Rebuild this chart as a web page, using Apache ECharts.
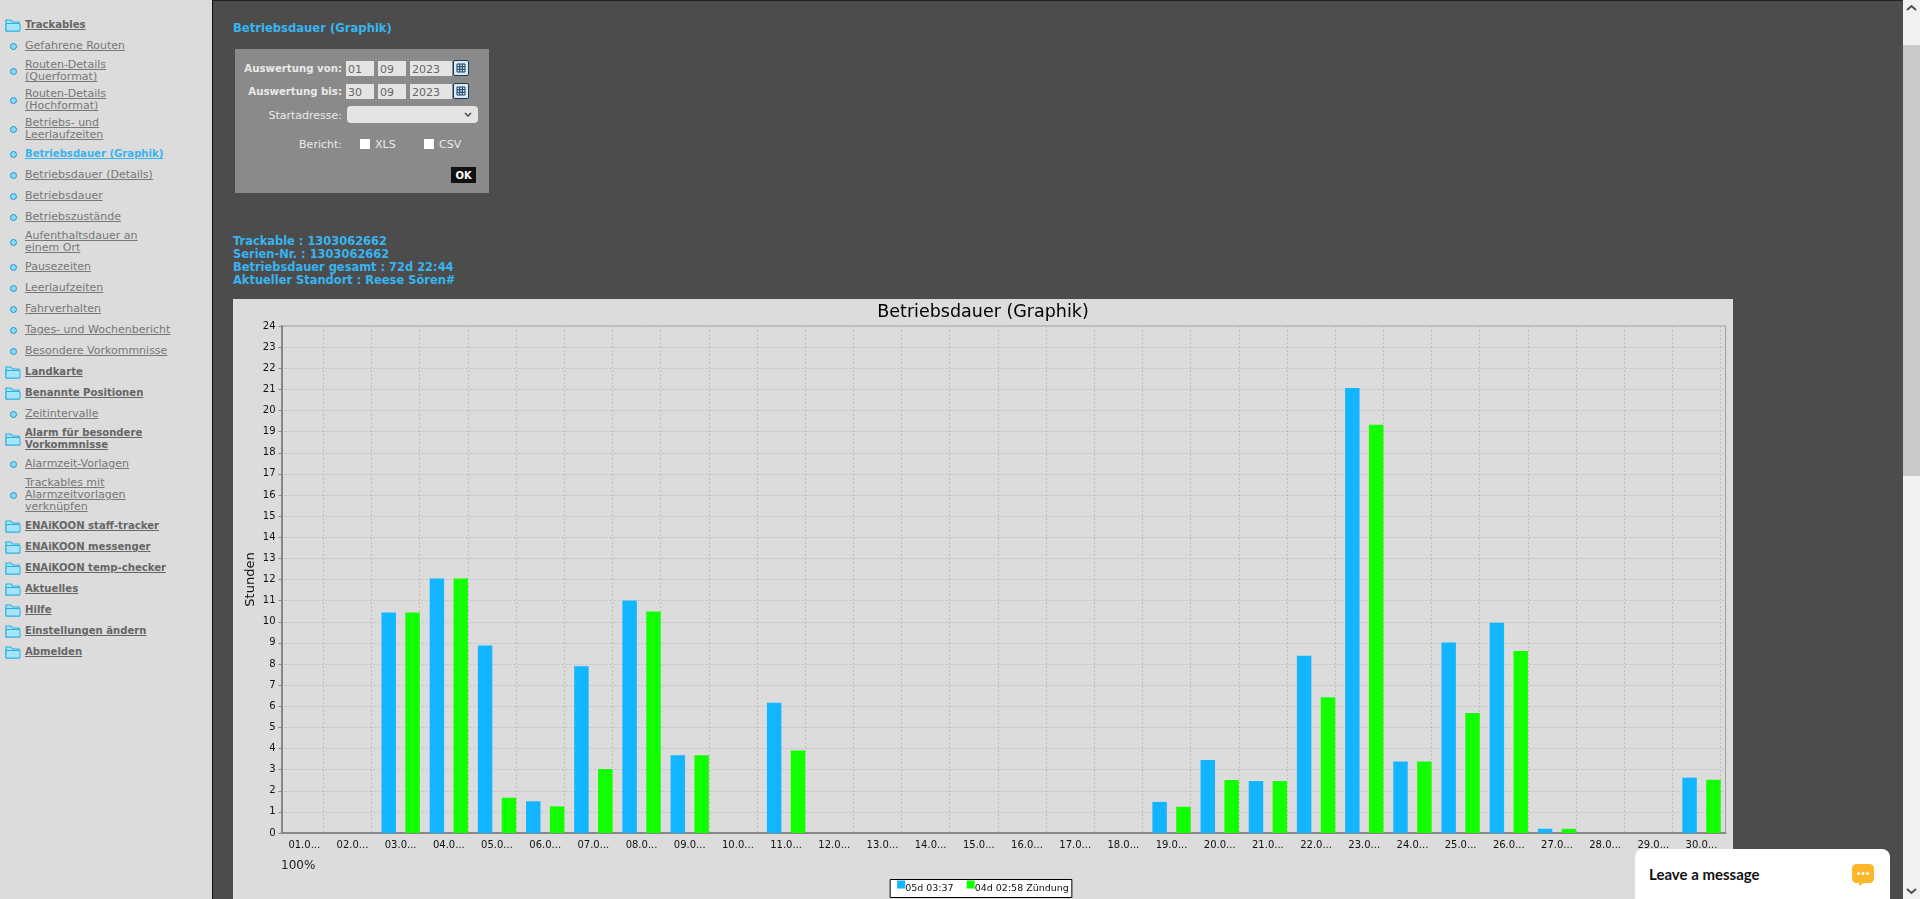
<!doctype html>
<html>
<head>
<meta charset="UTF-8">
<title>Betriebsdauer (Graphik)</title>
<style>
html, body { margin: 0; padding: 0; width: 1920px; height: 899px; overflow: hidden; background: #4c4c4c; font-family: "DejaVu Sans", sans-serif; font-size: 11px; }
.abs { position: absolute; white-space: nowrap; }
#topline { left: 0; top: 0; width: 1903px; height: 1px; background: #222; }
#side { left: 0; top: 0; width: 212px; height: 899px; background: #dcdcdc; border-right: 1px solid #111; box-sizing: content-box; }
#menu { list-style: none; margin: 0; padding: 14.5px 0 0 0; }
#menu li { min-height: 21px; padding: 2.5px 0; box-sizing: border-box; display: flex; align-items: center; line-height: 12px; color: #777; text-decoration: underline; position: relative; padding-left: 25px; white-space: nowrap; }
#menu li.f { font-weight: bold; color: #666; font-size: 10.1px; }
#menu li.on { font-weight: bold; color: #38b4ef; font-size: 10.1px; }
#menu li svg { position: absolute; left: 5px; top: 50%; margin-top: -8px; }
#menu li i { position: absolute; left: 10px; top: 50%; margin-top: -3.5px; width: 5px; height: 5px; border-radius: 50%; background: #85def9; border: 1.2px solid #2a90cc; }
h1 { position: absolute; left: 233px; top: 21px; margin: 0; font-size: 11.6px; line-height: 14px; color: #38b4ef; font-weight: bold; }
#form { left: 235px; top: 49px; width: 254px; height: 144px; background: #8a8a8a; }
.lab { color: #e9e9e9; text-align: right; width: 160px; left: 182px; line-height: 14px; }
.lab.b { font-weight: bold; font-size: 10.2px; }
.fld { background: #e4e4e4; color: #666; height: 15px; line-height: 17px; padding-left: 2px; box-sizing: border-box; }
.cal { width: 16px; height: 16px; box-sizing: border-box; background: #dfe9ef; border: 1px solid #123d63; border-radius: 2px; }
.chk { width: 10px; height: 10px; background: #fff; }
#ok { left: 451px; top: 167px; width: 25px; height: 16px; background: #111; color: #fff; font-weight: bold; font-size: 10px; line-height: 17px; text-align: center; }
#info { left: 233px; top: 235px; color: #38b4ef; font-weight: bold; font-size: 11.45px; line-height: 13px; }
#chart { position: absolute; left: 233px; top: 299px; width: 1500px; height: 600px; background: #dcdcdc; }
#sb { left: 1903px; top: 0; width: 17px; height: 899px; background: #f1f1f1; }
#thumb { left: 1903px; top: 45px; width: 17px; height: 431px; background: #c9c9c9; }
#msg { left: 1635px; top: 849px; width: 255px; height: 50px; background: #fff; border-radius: 8px 8px 0 0; }
#msg span { position: absolute; left: 14px; top: 16px; font-family: "Lato", sans-serif; font-weight: bold; font-size: 15px; line-height: 18px; color: #111; }
</style>
</head>
<body>
<div class="abs" id="topline"></div>
<div class="abs" id="side"><ul id="menu"></ul></div>

<h1>Betriebsdauer (Graphik)</h1>
<div class="abs" id="form"></div>
<div class="abs lab b" style="top:62px">Auswertung von:</div>
<div class="abs fld" style="left:346px;top:61px;width:28px">01</div>
<div class="abs fld" style="left:378px;top:61px;width:28px">09</div>
<div class="abs fld" style="left:410px;top:61px;width:42px">2023</div>
<div class="abs cal" style="left:453px;top:60px"></div>
<div class="abs lab b" style="top:85px">Auswertung bis:</div>
<div class="abs fld" style="left:346px;top:84px;width:28px">30</div>
<div class="abs fld" style="left:378px;top:84px;width:28px">09</div>
<div class="abs fld" style="left:410px;top:84px;width:42px">2023</div>
<div class="abs cal" style="left:453px;top:83px"></div>
<div class="abs lab" style="top:109px">Startadresse:</div>
<div class="abs fld" style="left:347px;top:106px;width:131px;height:17px;border-radius:4px"></div>
<svg class="abs" style="left:463px;top:111px" width="10" height="7"><path d="M2 2 L5 5 L8 2" fill="none" stroke="#444" stroke-width="1.4"/></svg>
<div class="abs lab" style="top:138px">Bericht:</div>
<div class="abs chk" style="left:360px;top:139px"></div>
<div class="abs" style="left:375px;top:138px;color:#e9e9e9;line-height:14px">XLS</div>
<div class="abs chk" style="left:424px;top:139px"></div>
<div class="abs" style="left:439px;top:138px;color:#e9e9e9;line-height:14px">CSV</div>
<div class="abs" id="ok">OK</div>

<div class="abs" id="info">Trackable : 1303062662<br>Serien-Nr. : 1303062662<br>Betriebsdauer gesamt : 72d 22:44<br>Aktueller Standort : Reese Sören#</div>

<div id="chart"></div>

<div class="abs" id="sb"></div>
<div class="abs" id="thumb"></div>
<svg class="abs" style="left:1903px;top:3px" width="17" height="10"><path d="M4 7 L8.5 3 L13 7" fill="none" stroke="#505050" stroke-width="2"/></svg>
<svg class="abs" style="left:1903px;top:886px" width="17" height="10"><path d="M4 3 L8.5 7 L13 3" fill="none" stroke="#505050" stroke-width="2"/></svg>

<div class="abs" id="msg"><span>Leave a message</span>
<svg style="position:absolute;left:216px;top:14px" width="24" height="24"><path d="M6 1 H18 Q23 1 23 6 V15 Q23 20 18 20 H13 L8 23 V20 H6 Q1 20 1 15 V6 Q1 1 6 1 Z" fill="#fbb62a"/><circle cx="7.5" cy="10.5" r="1.5" fill="#fff"/><circle cx="12" cy="10.5" r="1.5" fill="#fff"/><circle cx="16.5" cy="10.5" r="1.5" fill="#fff"/></svg>
</div>

<script src="https://cdn.jsdelivr.net/npm/echarts@6/dist/echarts.min.js"></script>
<script type="text/javascript">
// chart data
var dayLabels = ['01.0...','02.0...','03.0...','04.0...','05.0...','06.0...','07.0...','08.0...','09.0...','10.0...',
    '11.0...','12.0...','13.0...','14.0...','15.0...','16.0...','17.0...','18.0...','19.0...','20.0...',
    '21.0...','22.0...','23.0...','24.0...','25.0...','26.0...','27.0...','28.0...','29.0...','30.0...'];
var betriebHours = [0,0,10.44,12.05,8.88,1.5,7.89,11.01,3.68,0,
    6.17,0,0,0,0,0,0,0,1.47,3.45,
    2.46,8.39,21.07,3.39,9.02,9.95,0.2,0,0,2.62];
var zuendungHours = [0,0,10.44,12.05,1.67,1.26,3.03,10.49,3.68,0,
    3.91,0,0,0,0,0,0,0,1.24,2.51,
    2.46,6.43,19.33,3.39,5.68,8.62,0.2,0,0,2.52];
var betriebName = '05d 03:37';
var zuendungName = '04d 02:58 Zündung';

// sidebar entries: f = folder, s = sub item, on = current page
var menuEntries = [
    ['f','Trackables'],['s','Gefahrene Routen'],['s','Routen-Details<br>(Querformat)'],['s','Routen-Details<br>(Hochformat)'],
    ['s','Betriebs- und<br>Leerlaufzeiten'],['on','Betriebsdauer (Graphik)'],['s','Betriebsdauer (Details)'],['s','Betriebsdauer'],
    ['s','Betriebszustände'],['s','Aufenthaltsdauer an<br>einem Ort'],['s','Pausezeiten'],['s','Leerlaufzeiten'],['s','Fahrverhalten'],
    ['s','Tages- und Wochenbericht'],['s','Besondere Vorkommnisse'],['f','Landkarte'],['f','Benannte Positionen'],['s','Zeitintervalle'],
    ['f','Alarm für besondere<br>Vorkommnisse'],['s','Alarmzeit-Vorlagen'],['s','Trackables mit<br>Alarmzeitvorlagen<br>verknüpfen'],
    ['f','ENAiKOON staff-tracker'],['f','ENAiKOON messenger'],['f','ENAiKOON temp-checker'],['f','Aktuelles'],['f','Hilfe'],
    ['f','Einstellungen ändern'],['f','Abmelden']
];

var folderSvg = '<svg width="16" height="16"><path d="M1 3 H6 L7.5 5 H14 V14 H1 Z" fill="#a5e4fa" stroke="#2bb0e0" stroke-width="1.2"/><path d="M1 6.5 H15 V14 H1 Z" fill="#a5e4fa" stroke="#2bb0e0" stroke-width="1"/></svg>';
var menuHtml = '';
for (var i = 0; i < menuEntries.length; i++) {
    var kind = menuEntries[i][0];
    menuHtml += '<li class="' + kind + '">' + (kind == 'f' ? folderSvg : '<i></i>') + '<span>' + menuEntries[i][1] + '</span></li>';
}
document.getElementById('menu').innerHTML = menuHtml;

// calendar icons
var cals = document.querySelectorAll('.cal');
for (var c = 0; c < cals.length; c++) {
    cals[c].innerHTML = '<svg width="14" height="14"><path d="M3 3 H11 V11 H3 Z M3 5.7 H11 M3 8.3 H11 M5.7 3 V11 M8.3 3 V11" fill="none" stroke="#123d63" stroke-width="1"/></svg>';
}

var myChart = echarts.init(document.getElementById('chart'));
var tickColor = '#111';
var gridLine = { color: '#c0c0c0', type: [2, 2], width: 1 };
var option = {
    animation: false,
    textStyle: { fontFamily: 'DejaVu Sans' },
    title: [
        { text: 'Betriebsdauer (Graphik)', left: 'center', top: -1, textStyle: { fontSize: 17.5, fontWeight: 'normal', color: '#000' } },
        { text: '100%', left: 43, top: 556, textStyle: { fontSize: 12, fontWeight: 'normal', color: '#222' } }
    ],
    legend: {
        bottom: 1.5, left: 'center',
        backgroundColor: '#fff', borderColor: '#000', borderWidth: 1, borderRadius: 0,
        padding: [1, 3, 1, 7], itemGap: 13, itemWidth: 8, itemHeight: 16,
        // the colour square sits above the text line, so only the top half of the symbol box is filled
        icon: 'path://M0 0H8V8H0Z M0 16L0.01 16Z', symbolKeepAspect: false,
        textStyle: { fontSize: 9.5, color: '#111', padding: [0, 0, 0, -5] },
        data: [betriebName, zuendungName]
    },
    grid: [
        // bars and day labels
        { left: 47.2, right: 7.4, top: 27, bottom: 66, outerBoundsMode: 'none' },
        // vertical grid lines sit at the right edge of each bar pair, not on the band edge
        { left: 42.2, right: 12.4, top: 27, bottom: 66, outerBoundsMode: 'none' },
        // plot frame, y axis and horizontal grid lines
        { left: 48.5, right: 7.5, top: 27, bottom: 66, outerBoundsMode: 'none', show: true, borderColor: '#a0a0a0', borderWidth: 1, backgroundColor: 'transparent' }
    ],
    xAxis: [
        {
            type: 'category', gridIndex: 0, data: dayLabels,
            axisLine: { show: false },
            axisTick: { alignWithLabel: true, length: 3, lineStyle: { color: '#888' } },
            axisLabel: { color: tickColor, fontSize: 10, interval: 0, margin: 7 },
            splitLine: { show: false }
        },
        {
            type: 'category', gridIndex: 1, data: dayLabels,
            axisLine: { show: false }, axisTick: { show: false }, axisLabel: { show: false },
            splitLine: { show: true, showMinLine: false, interval: 0, lineStyle: gridLine }
        },
        {
            type: 'category', gridIndex: 2, data: dayLabels,
            axisLine: { lineStyle: { color: '#888', width: 2 } },
            axisTick: { show: false }, axisLabel: { show: false }, splitLine: { show: false }
        }
    ],
    yAxis: [
        { type: 'value', gridIndex: 0, min: 0, max: 24, show: false, splitLine: { show: false } },
        { type: 'value', gridIndex: 1, min: 0, max: 24, show: false, splitLine: { show: false } },
        {
            type: 'value', gridIndex: 2, min: 0, max: 24, interval: 1,
            name: 'Stunden', nameLocation: 'middle', nameRotate: 90, nameGap: 24, nameMoveOverlap: false,
            nameTextStyle: { fontSize: 13, color: '#111' },
            axisLine: { show: true, lineStyle: { color: '#888', width: 2 } },
            axisTick: { show: true, length: 3, lineStyle: { color: '#888' } },
            axisLabel: { color: tickColor, fontSize: 10, margin: 6 },
            splitLine: { show: true, lineStyle: gridLine }
        }
    ],
    series: [
        { name: betriebName, type: 'bar', xAxisIndex: 0, yAxisIndex: 0, data: betriebHours, barWidth: '30%', barGap: '65%', itemStyle: { color: '#12b5ff' } },
        { name: zuendungName, type: 'bar', xAxisIndex: 0, yAxisIndex: 0, data: zuendungHours, barWidth: '30%', barGap: '65%', itemStyle: { color: '#12ff00' } }
    ]
};
myChart.setOption(option);
</script>
</body>
</html>
